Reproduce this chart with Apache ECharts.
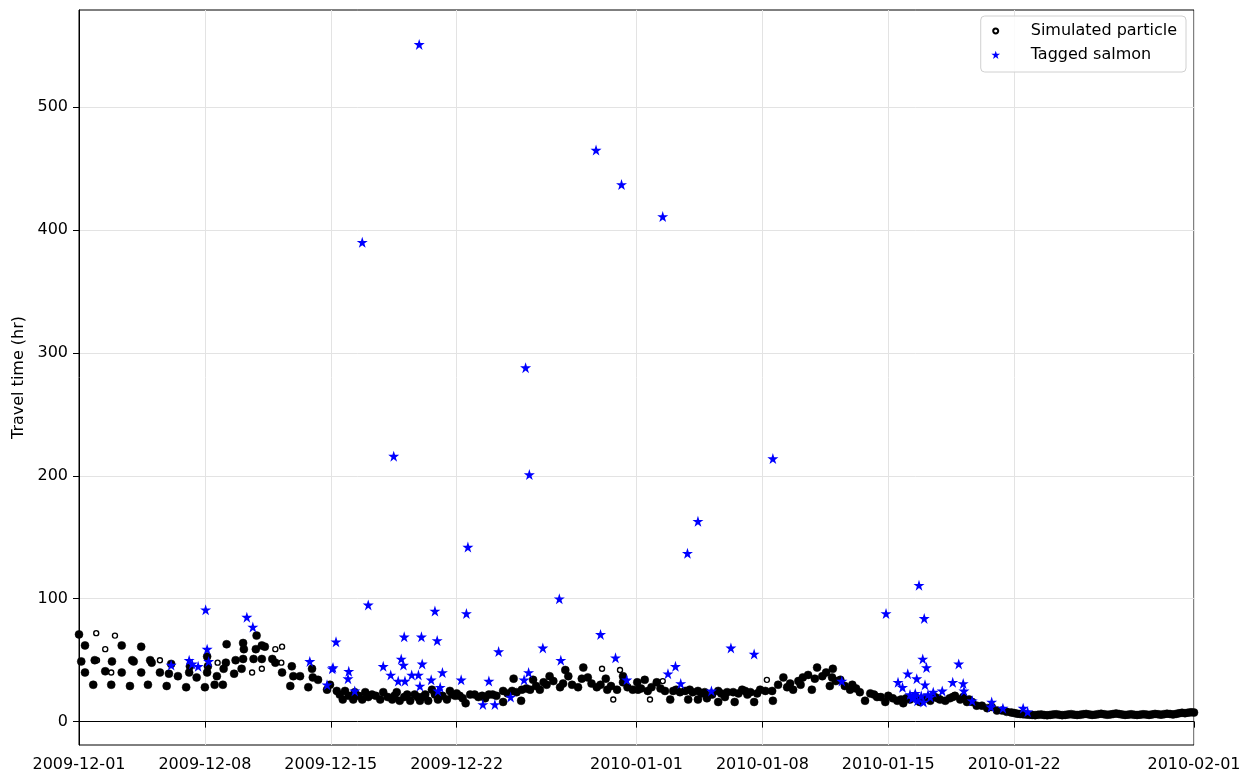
<!DOCTYPE html>
<html>
<head>
<meta charset="utf-8">
<script src="https://cdn.jsdelivr.net/npm/echarts@6/dist/echarts.min.js"></script>
<style>
html,body{margin:0;padding:0;background:#fff;}
#chart{width:1247px;height:778px;}
</style>
</head>
<body>
<div id="chart"></div>
<script>
// x tick labels (dates) and y ticks
const xTicks = ['2009-12-01','2009-12-08','2009-12-15','2009-12-22','2010-01-01','2010-01-08','2010-01-15','2010-01-22','2010-02-01'];
const yTicks = [0,100,200,300,400,500];

// Simulated particles (solid clusters)
const particleTime = [
'2009-12-01 00','2009-12-01 08','2009-12-01 03','2009-12-01 08','2009-12-01 19','2009-12-01 21','2009-12-02 11','2009-12-02 19','2009-12-02 20',
'2009-12-03 09','2009-12-03 09','2009-12-03 20','2009-12-03 23','2009-12-04 01','2009-12-04 11','2009-12-04 11','2009-12-04 20','2009-12-04 23',
'2009-12-05 01','2009-12-05 12','2009-12-05 21','2009-12-06 00','2009-12-06 03','2009-12-06 12','2009-12-06 23','2009-12-07 03','2009-12-07 04',
'2009-12-07 13','2009-12-08 00','2009-12-08 03','2009-12-08 04','2009-12-08 03','2009-12-08 13','2009-12-08 16','2009-12-09 00','2009-12-09 01',
'2009-12-09 04','2009-12-09 05','2009-12-09 15','2009-12-09 17','2009-12-10 01','2009-12-10 03','2009-12-10 03','2009-12-10 04','2009-12-10 17',
'2009-12-10 20','2009-12-10 21','2009-12-11 04','2009-12-11 04','2009-12-11 08','2009-12-11 18','2009-12-11 22','2009-12-12 07','2009-12-12 20',
'2009-12-12 22','2009-12-13 07','2009-12-12 18','2009-12-13 18','2009-12-13 23','2009-12-14 00','2009-12-14 07','2009-12-14 19','2009-12-14 23',
'2009-12-15 08','2009-12-15 16','2009-12-15 19','2009-12-16 06','2009-12-16 08','2009-12-16 18','2009-12-16 22','2009-12-17 07','2009-12-17 18',
'2009-12-17 22','2009-12-18 10','2009-12-18 16','2009-12-18 20','2009-12-19 06','2009-12-19 10','2009-12-19 16','2009-12-19 23','2009-12-20 06',
'2009-12-20 10','2009-12-20 15','2009-12-20 19','2009-12-20 23','2009-12-21 11','2009-12-21 15','2009-12-21 18','2009-12-21 22','2009-12-22 04',
'2009-12-22 12','2009-12-22 18','2009-12-23 00','2009-12-23 10','2009-12-23 19','2009-12-24 00','2009-12-24 14','2009-12-24 14','2009-12-25 02',
'2009-12-25 04','2009-12-25 14','2009-12-25 15','2009-12-26 02','2009-12-26 06','2009-12-26 15','2009-12-27 00','2009-12-27 04','2009-12-27 18',
'2009-12-28 01','2009-12-28 05','2009-12-28 18','2009-12-28 23','2009-12-29 01','2009-12-29 07','2009-12-29 19','2009-12-30 07','2009-12-30 09',
'2009-12-30 22','2009-12-31 06','2009-12-31 06','2009-12-31 19','2010-01-01 01','2010-01-01 02','2010-01-01 11','2010-01-01 15','2010-01-02 03',
'2010-01-02 14','2010-01-02 21','2010-01-03 01','2010-01-03 10','2010-01-03 17','2010-01-03 21','2010-01-03 23','2010-01-04 10','2010-01-04 10',
'2010-01-04 19','2010-01-04 22','2010-01-05 05','2010-01-05 13','2010-01-05 13','2010-01-05 22','2010-01-06 01','2010-01-06 09','2010-01-06 11',
'2010-01-06 21','2010-01-07 01','2010-01-07 08','2010-01-07 13','2010-01-07 21','2010-01-08 13','2010-01-08 14','2010-01-08 21','2010-01-09 04',
'2010-01-09 13','2010-01-09 17','2010-01-10 00','2010-01-10 06','2010-01-10 13','2010-01-10 18','2010-01-10 22','2010-01-11 01','2010-01-11 08',
'2010-01-11 13','2010-01-11 18','2010-01-11 21','2010-01-11 22','2010-01-12 08','2010-01-12 21','2010-01-13 00','2010-01-13 10','2010-01-13 17',
'2010-01-14 00','2010-01-14 09','2010-01-14 20','2010-01-15 00','2010-01-15 06','2010-01-15 12','2010-01-15 20','2010-01-16 05','2010-01-16 12',
'2010-01-16 18','2010-01-17 01','2010-01-17 08','2010-01-17 14','2010-01-17 21','2010-01-18 04','2010-01-18 10','2010-01-18 17','2010-01-19 00',
'2010-01-19 04','2010-01-19 09','2010-01-19 16','2010-01-19 22','2010-01-20 05','2010-01-20 12','2010-01-20 18','2010-01-21 01','2010-01-21 08',
'2010-01-21 14','2010-01-21 20',
'2010-01-22 00','2010-01-22 04','2010-01-22 08','2010-01-22 12','2010-01-22 16','2010-01-22 20',
'2010-01-23 00','2010-01-23 04','2010-01-23 08','2010-01-23 12','2010-01-23 16','2010-01-23 20',
'2010-01-24 00','2010-01-24 04','2010-01-24 08','2010-01-24 12','2010-01-24 16','2010-01-24 20',
'2010-01-25 00','2010-01-25 04','2010-01-25 08','2010-01-25 12','2010-01-25 16','2010-01-25 20',
'2010-01-26 00','2010-01-26 04','2010-01-26 08','2010-01-26 12','2010-01-26 16','2010-01-26 20',
'2010-01-27 00','2010-01-27 04','2010-01-27 08','2010-01-27 12','2010-01-27 16','2010-01-27 20',
'2010-01-28 00','2010-01-28 04','2010-01-28 08','2010-01-28 12','2010-01-28 16','2010-01-28 20',
'2010-01-29 00','2010-01-29 04','2010-01-29 08','2010-01-29 12','2010-01-29 16','2010-01-29 20',
'2010-01-30 00','2010-01-30 04','2010-01-30 08','2010-01-30 12','2010-01-30 16','2010-01-30 20',
'2010-01-31 00','2010-01-31 04','2010-01-31 08','2010-01-31 12','2010-01-31 16','2010-01-31 20',
'2010-02-01 00',
'2009-12-15 12','2009-12-16 00','2009-12-16 13','2009-12-17 02','2009-12-17 12','2009-12-18 04','2009-12-18 13','2009-12-19 02','2009-12-19 20',
'2009-12-20 02','2009-12-21 05','2009-12-22 00','2009-12-22 08','2009-12-23 05','2009-12-23 14','2009-12-24 05','2009-12-24 20','2009-12-25 08',
'2009-12-25 21','2009-12-26 10','2009-12-26 20','2009-12-27 09','2009-12-27 22','2009-12-28 10','2009-12-29 12','2009-12-30 00','2009-12-30 14',
'2009-12-31 12','2010-01-01 06','2010-01-01 20','2010-01-02 08','2010-01-03 05','2010-01-04 03','2010-01-04 15','2010-01-05 17','2010-01-06 16',
'2010-01-07 04','2010-01-07 17','2010-01-08 04','2010-01-09 09','2010-01-10 03','2010-01-12 02','2010-01-12 14','2010-01-13 05','2010-01-14 05',
'2010-01-14 14','2010-01-15 17','2010-01-16 00','2010-01-16 22','2010-01-17 18','2010-01-18 14','2010-01-19 12'
];
const particleHours = [
71,62,49,40,30,50,41,30,49,
62,40,29,50,49,61,40,30,50,
48,40,29,39,47,37,28,40,45,
36,28,40,45,53,30,37,30,43,
48,63,39,50,43,51,64,59,51,
59,70,62,51,61,51,48,40,45,
37,37,29,28,43,36,34,26,30,
25,18,25,18,24,18,24,22,18,
24,18,24,17,22,17,22,17,22,
17,26,22,18,18,25,22,21,21,
15,22,22,21,22,22,25,16,25,
35,17,26,26,34,26,30,37,28,
42,37,28,35,44,36,28,35,26,
26,37,32,26,32,26,34,25,32,
25,18,25,24,25,18,26,18,25,
24,19,22,16,25,20,24,24,16,
26,25,24,16,26,25,17,30,36,
31,26,33,36,38,26,35,44,37,
40,29,36,43,34,26,30,24,17,
23,20,16,21,19,17,15,18,20,
16,19,17,20,18,17,19,21,18,
20,16,16,13,13,11,12,9,9,
8,7.5,
7.0,6.5,6.2,6.0,5.8,5.6,
5.5,5.3,5.6,5.8,5.4,5.2,
5.5,5.8,6.0,5.6,5.3,5.5,
5.8,6.1,5.7,5.4,5.6,6.0,
6.3,5.9,5.5,5.7,6.1,6.4,
6.0,5.6,5.8,6.2,6.6,6.2,
5.8,5.5,5.7,6.0,5.6,5.4,
5.7,6.0,5.8,5.5,5.9,6.3,
6.0,5.7,6.1,6.5,6.2,5.9,
6.3,6.8,7.2,6.9,7.3,7.6,
7.4,
22,21,21,20,21,20,21,20,20,
20,21,23,19,20,19,21,23,24,
27,29,32,33,31,30,31,30,29,
28,27,28,27,26,24,23,23,23,
22,23,25,28,30,33,29,27,22,
20,18,19,18,19,20,18
];

// Isolated simulated particles (seen as open rings)
const ringTime = ['2009-12-01 23','2009-12-02 00','2009-12-02 11','2009-12-03 00','2009-12-02 19','2009-12-05 12','2009-12-08 17','2009-12-10 15','2009-12-11 04','2009-12-11 22','2009-12-12 07','2009-12-12 06','2009-12-30 02','2009-12-30 17','2009-12-31 02','2010-01-01 18','2010-01-02 11','2010-01-08 06'];
const ringHours = [72,50,59,70,40,50,48,40,43,59,61,48,43,18,42,18,33,34];

// Tagged salmon
const salmonTime = [
'2009-12-06 03','2009-12-07 03','2009-12-07 07','2009-12-07 15','2009-12-08 01','2009-12-08 03','2009-12-08 05','2009-12-10 08','2009-12-10 16',
'2009-12-13 20','2009-12-14 19','2009-12-15 02','2009-12-15 03','2009-12-15 07','2009-12-15 23','2009-12-16 00','2009-12-16 08','2009-12-16 18',
'2009-12-17 02','2009-12-17 22','2009-12-18 08','2009-12-18 12','2009-12-18 18','2009-12-18 22','2009-12-19 01','2009-12-19 02','2009-12-19 03',
'2009-12-19 12','2009-12-19 21','2009-12-19 22','2009-12-19 23','2009-12-20 01','2009-12-20 02','2009-12-20 14','2009-12-20 19','2009-12-20 22',
'2009-12-20 23','2009-12-21 02','2009-12-21 05','2009-12-22 06','2009-12-22 13','2009-12-22 15','2009-12-23 11','2009-12-23 19','2009-12-24 03',
'2009-12-24 08','2009-12-25 00','2009-12-25 18','2009-12-25 20','2009-12-26 00','2009-12-26 01','2009-12-26 19','2009-12-27 17','2009-12-27 19',
'2009-12-29 18','2009-12-30 00','2009-12-30 20','2009-12-31 04','2009-12-31 11','2010-01-02 11','2010-01-02 18','2010-01-03 04','2010-01-03 11',
'2010-01-03 20','2010-01-04 10','2010-01-05 04','2010-01-06 06','2010-01-07 13','2010-01-08 14','2010-01-12 10','2010-01-14 21','2010-01-15 13',
'2010-01-15 19','2010-01-16 02','2010-01-16 05','2010-01-16 08','2010-01-16 10','2010-01-16 12','2010-01-16 14','2010-01-16 15','2010-01-16 17',
'2010-01-16 20','2010-01-16 22','2010-01-16 23','2010-01-17 00','2010-01-17 01','2010-01-17 03','2010-01-17 05','2010-01-17 08','2010-01-17 12',
'2010-01-18 00','2010-01-18 14','2010-01-18 22','2010-01-19 04','2010-01-19 05','2010-01-19 16','2010-01-20 17','2010-01-20 18','2010-01-21 09',
'2010-01-22 12','2010-01-22 18'
];
const salmonHours = [
46,50,47,45,91,59,49,85,77,
49,30,43,44,65,35,41,25,390,
95,45,38,216,33,51,46,69,33,
38,38,551,29,69,47,34,90,66,
25,28,40,34,88,142,14,33,14,
57,20,34,288,40,201,60,100,50,
465,71,52,437,34,411,39,45,31,
137,163,25,60,55,214,33,88,32,
28,39,22,19,20,23,35,17,111,
21,51,16,84,30,44,22,20,24,
25,32,47,31,25,17,12,16,11,
11,8
];

const ts = s => +echarts.time.parse(s);
const pair = (t, v) => t.map((d, i) => [ts(d), v[i]]);
const starShape = 'M50,0 L61.2,34.5 L97.6,34.5 L68.2,55.9 L79.4,90.5 L50,69.1 L20.6,90.5 L31.8,55.9 L2.4,34.5 L38.8,34.5 Z';
const starPath = 'path://' + starShape;
const starLegend = 'path://M-14,-18 M114,112 ' + starShape;
const ringLegend = 'path://M0,0 M100,100 M50,29 A21,21 0 1 1 49.9,29 Z';
const tickVals = xTicks.map(ts);
const FONT = 'DejaVu Sans';

const chart = echarts.init(document.getElementById('chart'), null, {renderer: 'canvas'});
chart.setOption({
  animation: false,
  backgroundColor: '#fff',
  textStyle: {fontFamily: FONT},
  grid: {left: 79, right: 53, top: 10, bottom: 33, show: true, borderColor: '#000', borderWidth: 1, backgroundColor: 'transparent'},
  legend: {
    right: 61, top: 16, orient: 'vertical',
    backgroundColor: 'rgba(255,255,255,0.85)', borderColor: '#d0d0d0', borderWidth: 1, borderRadius: 4,
    padding: [7, 9, 9, 8], itemGap: 8, itemWidth: 14, itemHeight: 12,
    textStyle: {fontFamily: FONT, fontSize: 16, color: '#000', lineHeight: 16, padding: [0, 0, 0, 23]},
    data: [
      {name: 'Simulated particle', icon: ringLegend},
      {name: 'Tagged salmon', icon: starLegend}
    ]
  },
  xAxis: {
    type: 'value',
    min: tickVals[0], max: tickVals[tickVals.length - 1],
    axisLine: {show: true, lineStyle: {color: '#000'}},
    axisTick: {show: true, length: 6, lineStyle: {color: '#000'}, customValues: tickVals},
    axisLabel: {customValues: tickVals, color: '#000', fontFamily: FONT, fontSize: 16, margin: 12, hideOverlap: false,
      formatter: v => echarts.time.format(v, '{yyyy}-{MM}-{dd}', false)},
    splitLine: {show: true, lineStyle: {color: '#e3e3e3', width: 1}}
  },
  yAxis: {
    type: 'value', min: -19, max: 579,
    name: 'Travel time (hr)', nameLocation: 'middle', nameGap: 52,
    nameTextStyle: {fontFamily: FONT, fontSize: 16, color: '#000'},
    axisLine: {show: true, lineStyle: {color: '#000'}},
    axisTick: {show: true, length: 6, lineStyle: {color: '#000'}, customValues: yTicks},
    axisLabel: {customValues: yTicks, color: '#000', fontFamily: FONT, fontSize: 16, margin: 11},
    splitLine: {show: true, lineStyle: {color: '#e3e3e3', width: 1}}
  },
  series: [
    {
      name: 'Simulated particle', type: 'scatter', symbol: 'circle', symbolSize: 5,
      itemStyle: {color: '#fff', borderColor: '#000', borderWidth: 1.4, opacity: 1},
      data: pair(ringTime, ringHours), z: 2
    },
    {
      name: 'Simulated particle', type: 'scatter', symbol: 'circle', symbolSize: 8,
      itemStyle: {color: '#000', borderColor: '#000', borderWidth: 0.5, opacity: 1},
      data: pair(particleTime, particleHours), z: 2
    },
    {
      name: 'Tagged salmon', type: 'scatter', symbol: starPath, symbolSize: 11,
      itemStyle: {color: '#0000ff', opacity: 1},
      data: pair(salmonTime, salmonHours), z: 3
    }
  ]
});
</script>
</body>
</html>
